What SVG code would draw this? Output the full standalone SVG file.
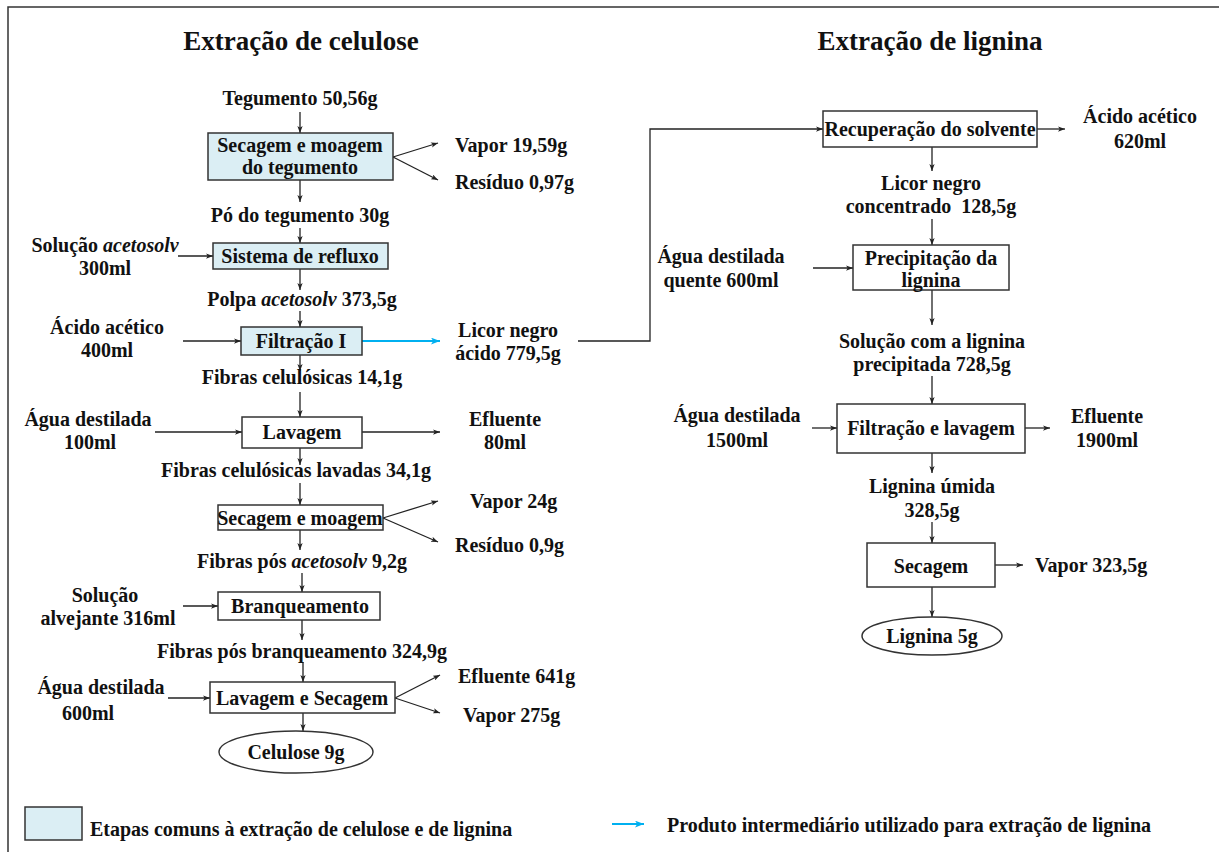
<svg xmlns="http://www.w3.org/2000/svg" width="1219" height="852" viewBox="0 0 1219 852">
  <style>
    text { font-family: "Liberation Serif", "Times New Roman", serif; font-weight: bold; fill: #111; }
    .t { font-size: 20px; }
    .c { text-anchor: middle; }
    .title { font-size: 27px; text-anchor: middle; }
    .it { font-style: italic; }
    .box { fill: #ffffff; stroke: #333; stroke-width: 1.5; }
    .common { fill: #dbeef4; stroke: #333; stroke-width: 1.5; }
    .ln { fill: none; stroke: #222; stroke-width: 1.3; marker-end: url(#ah); }
    .blue { fill: none; stroke: #00b0f0; stroke-width: 2; marker-end: url(#ahb); }
  </style>
  <defs>
    <marker id="ah" viewBox="0 0 8 6" refX="8" refY="3" markerWidth="7" markerHeight="5.5" markerUnits="userSpaceOnUse" orient="auto">
      <path d="M0,0 L8,3 L0,6 L2,3 z" fill="#222"/>
    </marker>
    <marker id="ahb" viewBox="0 0 8 6" refX="8" refY="3" markerWidth="9" markerHeight="7" markerUnits="userSpaceOnUse" orient="auto">
      <path d="M0,0 L8,3 L0,6 L2,3 z" fill="#00b0f0"/>
    </marker>
  </defs>

  <!-- page frame -->
  <rect x="8" y="7" width="1300" height="900" fill="none" stroke="#333" stroke-width="1.5"/>

  <!-- column headings -->
  <text class="title" x="301" y="50">Extração de celulose</text>
  <text class="title" x="930" y="50">Extração de lignina</text>

  <!-- connectors -->
  <g id="connectors">
    <!-- cellulose line -->
    <line class="ln" x1="300" y1="112" x2="300" y2="133"/>
    <line class="ln" x1="393" y1="157" x2="438" y2="143"/>
    <line class="ln" x1="393" y1="157" x2="438" y2="180"/>
    <line class="ln" x1="300" y1="180" x2="300" y2="202"/>
    <line class="ln" x1="300" y1="228" x2="300" y2="243"/>
    <line class="ln" x1="178" y1="256" x2="213" y2="256"/>
    <line class="ln" x1="300" y1="269" x2="300" y2="290"/>
    <line class="ln" x1="300" y1="311" x2="300" y2="327"/>
    <line class="ln" x1="183" y1="341" x2="241" y2="341"/>
    <line class="blue" x1="362" y1="341" x2="440" y2="341"/>
    <line class="ln" x1="300" y1="355" x2="300" y2="371"/>
    <line class="ln" x1="300" y1="392" x2="300" y2="417"/>
    <line class="ln" x1="155" y1="432" x2="242" y2="432"/>
    <line class="ln" x1="362" y1="432" x2="440" y2="432"/>
    <line class="ln" x1="300" y1="448" x2="300" y2="465"/>
    <line class="ln" x1="300" y1="483" x2="300" y2="505"/>
    <line class="ln" x1="383" y1="518" x2="438" y2="501"/>
    <line class="ln" x1="383" y1="518" x2="438" y2="542"/>
    <line class="ln" x1="300" y1="530" x2="300" y2="550"/>
    <line class="ln" x1="302" y1="573" x2="302" y2="592"/>
    <line class="ln" x1="183" y1="606" x2="218" y2="606"/>
    <line class="ln" x1="302" y1="620" x2="302" y2="640"/>
    <line class="ln" x1="303" y1="662" x2="303" y2="682"/>
    <line class="ln" x1="168" y1="698" x2="210" y2="698"/>
    <line class="ln" x1="395" y1="698" x2="440" y2="675"/>
    <line class="ln" x1="395" y1="698" x2="440" y2="713"/>
    <line class="ln" x1="303" y1="713" x2="303" y2="731"/>
    <!-- black liquor to solvent recovery -->
    <polyline class="ln" points="578,341 650,341 650,129 823,129"/>
    <!-- lignin line -->
    <line class="ln" x1="1037" y1="129" x2="1065" y2="129"/>
    <line class="ln" x1="932" y1="147" x2="932" y2="171"/>
    <line class="ln" x1="932" y1="219" x2="932" y2="245"/>
    <line class="ln" x1="813" y1="268" x2="853" y2="268"/>
    <line class="ln" x1="932" y1="290" x2="932" y2="325"/>
    <line class="ln" x1="932" y1="376" x2="932" y2="404"/>
    <line class="ln" x1="812" y1="428" x2="837" y2="428"/>
    <line class="ln" x1="1025" y1="428" x2="1050" y2="428"/>
    <line class="ln" x1="932" y1="453" x2="932" y2="473"/>
    <line class="ln" x1="932" y1="522" x2="932" y2="543"/>
    <line class="ln" x1="995" y1="565" x2="1023" y2="565"/>
    <line class="ln" x1="932" y1="587" x2="932" y2="617"/>
  </g>

  <!-- cellulose extraction nodes -->
  <g id="tegumento"><text class="t c" x="300" y="105">Tegumento 50,56g</text></g>
  <g id="secagem-moagem-tegumento">
    <rect class="common" x="208" y="133" width="185" height="47"/>
    <text class="t c" x="300" y="152">Secagem e moagem</text>
    <text class="t c" x="300" y="174">do tegumento</text>
  </g>
  <g id="vapor-1"><text class="t" x="455" y="152">Vapor 19,59g</text></g>
  <g id="residuo-1"><text class="t" x="455" y="189">Resíduo 0,97g</text></g>
  <g id="po-tegumento"><text class="t c" x="300" y="222">Pó do tegumento 30g</text></g>
  <g id="solucao-acetosolv">
    <text class="t c" x="105" y="252">Solução <tspan class="it">acetosolv</tspan></text>
    <text class="t c" x="105" y="275">300ml</text>
  </g>
  <g id="sistema-refluxo">
    <rect class="common" x="213" y="243" width="175" height="26"/>
    <text class="t c" x="300" y="263">Sistema de refluxo</text>
  </g>
  <g id="polpa"><text class="t c" x="302" y="306">Polpa <tspan class="it">acetosolv</tspan> 373,5g</text></g>
  <g id="acido-acetico-1">
    <text class="t c" x="107" y="334">Ácido acético</text>
    <text class="t c" x="107" y="357">400ml</text>
  </g>
  <g id="filtracao-1">
    <rect class="common" x="241" y="327" width="121" height="28"/>
    <text class="t c" x="301" y="348">Filtração I</text>
  </g>
  <g id="licor-negro-acido">
    <text class="t c" x="508" y="337">Licor negro</text>
    <text class="t c" x="508" y="360">ácido 779,5g</text>
  </g>
  <g id="fibras-1"><text class="t c" x="302" y="384">Fibras celulósicas 14,1g</text></g>
  <g id="agua-1">
    <text class="t c" x="88" y="426">Água destilada</text>
    <text class="t c" x="90" y="449">100ml</text>
  </g>
  <g id="lavagem">
    <rect class="box" x="242" y="417" width="120" height="31"/>
    <text class="t c" x="302" y="439">Lavagem</text>
  </g>
  <g id="efluente-1">
    <text class="t c" x="505" y="426">Efluente</text>
    <text class="t c" x="505" y="449">80ml</text>
  </g>
  <g id="fibras-lavadas"><text class="t c" x="296" y="477">Fibras celulósicas lavadas 34,1g</text></g>
  <g id="secagem-moagem">
    <rect class="box" x="218" y="505" width="165" height="25"/>
    <text class="t c" x="300" y="525">Secagem e moagem</text>
  </g>
  <g id="vapor-2"><text class="t" x="470" y="508">Vapor 24g</text></g>
  <g id="residuo-2"><text class="t" x="455" y="552">Resíduo 0,9g</text></g>
  <g id="fibras-pos-acetosolv"><text class="t c" x="302" y="568">Fibras pós <tspan class="it">acetosolv</tspan> 9,2g</text></g>
  <g id="solucao-alvejante">
    <text class="t c" x="105" y="602">Solução</text>
    <text class="t c" x="108" y="625">alvejante 316ml</text>
  </g>
  <g id="branqueamento">
    <rect class="box" x="218" y="592" width="162" height="28"/>
    <text class="t c" x="300" y="613">Branqueamento</text>
  </g>
  <g id="fibras-pos-branqueamento"><text class="t c" x="302" y="658">Fibras pós branqueamento 324,9g</text></g>
  <g id="agua-2">
    <text class="t c" x="101" y="694">Água destilada</text>
    <text class="t c" x="88" y="720">600ml</text>
  </g>
  <g id="lavagem-secagem">
    <rect class="box" x="210" y="682" width="185" height="31"/>
    <text class="t c" x="302" y="705">Lavagem e Secagem</text>
  </g>
  <g id="efluente-2"><text class="t" x="458" y="683">Efluente 641g</text></g>
  <g id="vapor-3"><text class="t" x="463" y="722">Vapor 275g</text></g>
  <g id="celulose">
    <ellipse cx="296" cy="752" rx="77" ry="21" fill="#fff" stroke="#333" stroke-width="1.5"/>
    <text class="t c" x="296" y="759">Celulose 9g</text>
  </g>

  <!-- lignin extraction nodes -->
  <g id="recuperacao-solvente">
    <rect class="box" x="823" y="111" width="214" height="36"/>
    <text class="t c" x="930" y="136">Recuperação do solvente</text>
  </g>
  <g id="acido-acetico-2">
    <text class="t c" x="1140" y="123">Ácido acético</text>
    <text class="t c" x="1140" y="148">620ml</text>
  </g>
  <g id="licor-concentrado">
    <text class="t c" x="931" y="190">Licor negro</text>
    <text class="t c" x="931" y="213" xml:space="preserve">concentrado  128,5g</text>
  </g>
  <g id="agua-quente">
    <text class="t c" x="721" y="263">Água destilada</text>
    <text class="t c" x="721" y="287">quente 600ml</text>
  </g>
  <g id="precipitacao">
    <rect class="box" x="853" y="245" width="156" height="45"/>
    <text class="t c" x="931" y="265">Precipitação da</text>
    <text class="t c" x="931" y="287">lignina</text>
  </g>
  <g id="solucao-lignina">
    <text class="t c" x="932" y="348">Solução com a lignina</text>
    <text class="t c" x="932" y="371">precipitada 728,5g</text>
  </g>
  <g id="agua-3">
    <text class="t c" x="737" y="422">Água destilada</text>
    <text class="t c" x="737" y="447">1500ml</text>
  </g>
  <g id="filtracao-lavagem">
    <rect class="box" x="837" y="404" width="188" height="49"/>
    <text class="t c" x="931" y="435">Filtração e lavagem</text>
  </g>
  <g id="efluente-3">
    <text class="t c" x="1107" y="423">Efluente</text>
    <text class="t c" x="1107" y="447">1900ml</text>
  </g>
  <g id="lignina-umida">
    <text class="t c" x="932" y="493">Lignina úmida</text>
    <text class="t c" x="932" y="517">328,5g</text>
  </g>
  <g id="secagem-lignina">
    <rect class="box" x="867" y="543" width="128" height="44"/>
    <text class="t c" x="931" y="573">Secagem</text>
  </g>
  <g id="vapor-4"><text class="t" x="1035" y="572">Vapor 323,5g</text></g>
  <g id="lignina">
    <ellipse cx="932" cy="636" rx="70" ry="19" fill="#fff" stroke="#333" stroke-width="1.5"/>
    <text class="t c" x="932" y="643">Lignina 5g</text>
  </g>

  <!-- legend -->
  <g id="legend-common">
    <rect class="common" x="25" y="807" width="57" height="33"/>
    <text class="t" x="90" y="836">Etapas comuns à extração de celulose e de lignina</text>
  </g>
  <g id="legend-intermediate">
    <line class="blue" x1="612" y1="824" x2="644" y2="824"/>
    <text class="t" x="667" y="832">Produto intermediário utilizado para extração de lignina</text>
  </g>
</svg>
